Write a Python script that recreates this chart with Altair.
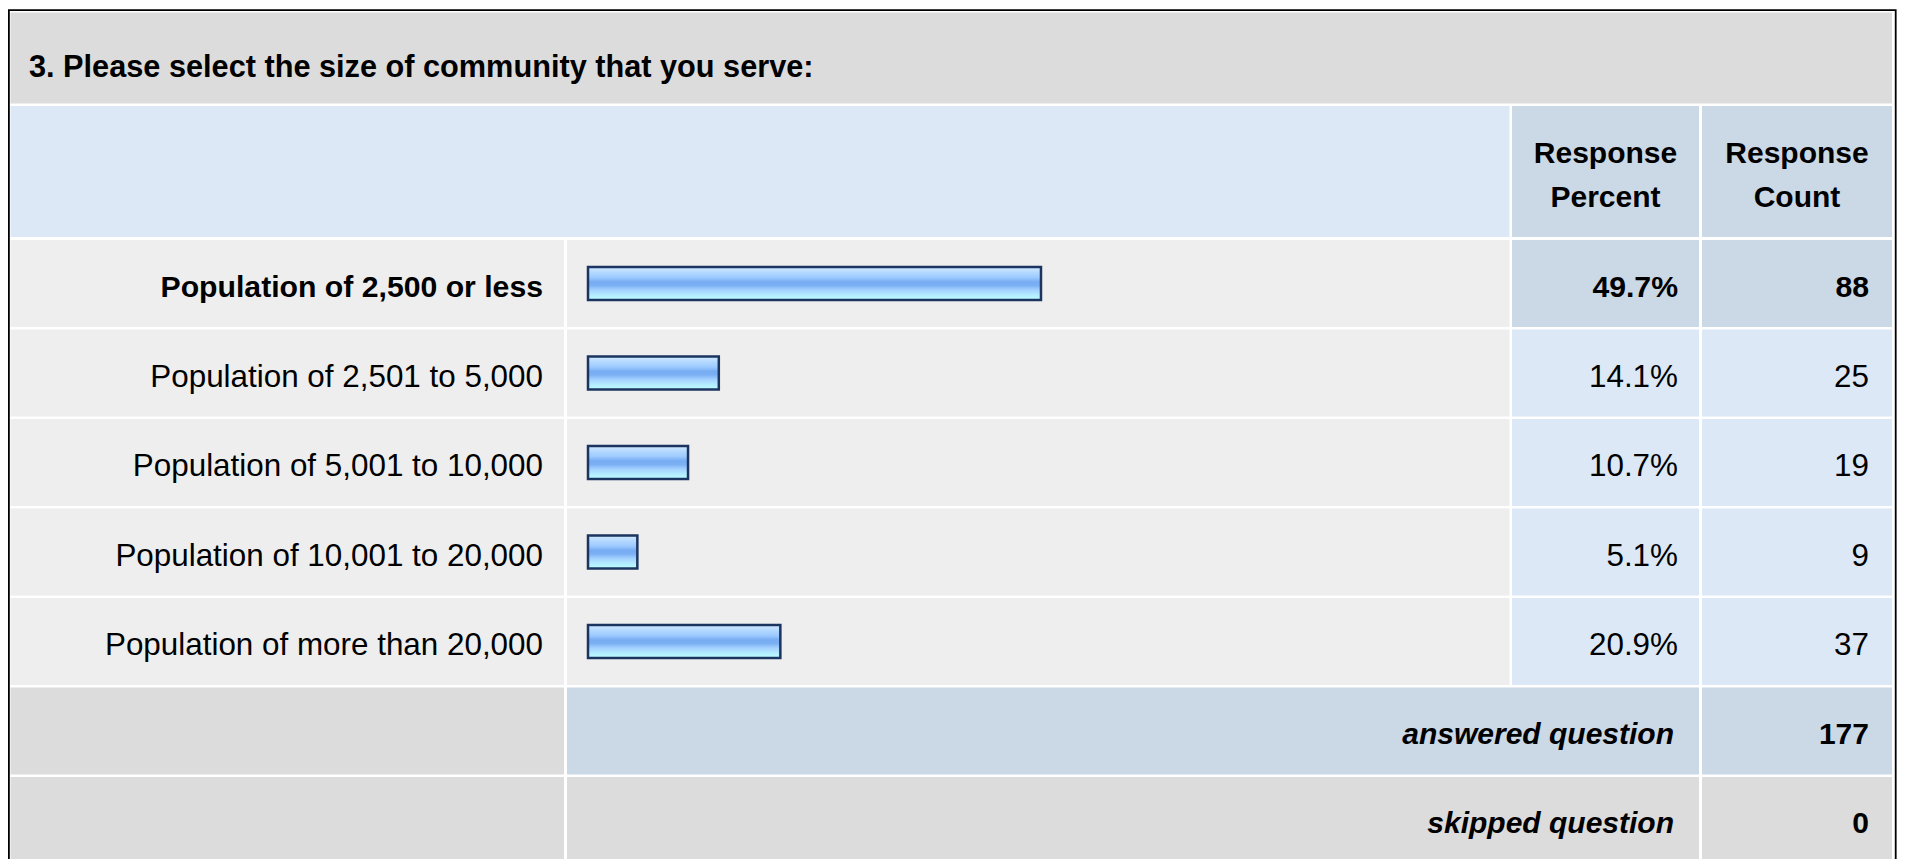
import altair as alt
import pandas as pd

# ---------------- data ----------------
title = "3. Please select the size of community that you serve:"
header_pct = ["Response", "Percent"]
header_cnt = ["Response", "Count"]
categories = [
    "Population of 2,500 or less",
    "Population of 2,501 to 5,000",
    "Population of 5,001 to 10,000",
    "Population of 10,001 to 20,000",
    "Population of more than 20,000",
]
percents = [49.7, 14.1, 10.7, 5.1, 20.9]
counts = [88, 25, 19, 9, 37]
summary_labels = ["answered question", "skipped question"]
summary_values = [177, 0]

# ---------------- layout (screen pixels) ----------------
W, H = 1891, 851
OX, OY = 8, 8
FONT = "Liberation Sans, Arial, Helvetica, sans-serif"

C_TITLE = "#dcdcdc"
C_HEAD = "#dce8f5"
C_HEAD_R = "#cbd8e6"
C_ROW = "#eeeeee"
C_VAL = "#dce8f5"
C_VAL_HI = "#cbd8e6"
C_GRAY = "#dcdcdc"
C_ANS = "#cbd8e6"

xa0, xa1 = 10.5, 564
xb0, xb1 = 567, 1509.5
xc0, xc1 = 1512, 1699
xd0, xd1 = 1702, 1892
row_top0, step, gap = 240, 89.5, 2.5

cells = []
cells.append(dict(x0=xa0, x1=xd1, y0=12.5, y1=103.5, fill=C_TITLE))
cells.append(dict(x0=xa0, x1=xb1, y0=106, y1=237, fill=C_HEAD))
cells.append(dict(x0=xc0, x1=xc1, y0=106, y1=237, fill=C_HEAD_R))
cells.append(dict(x0=xd0, x1=xd1, y0=106, y1=237, fill=C_HEAD_R))
for i in range(len(categories)):
    t = row_top0 + step * i
    b = t + step - gap
    vf = C_VAL_HI if i == 0 else C_VAL
    cells.append(dict(x0=xa0, x1=xa1, y0=t, y1=b, fill=C_ROW))
    cells.append(dict(x0=xb0, x1=xb1, y0=t, y1=b, fill=C_ROW))
    cells.append(dict(x0=xc0, x1=xc1, y0=t, y1=b, fill=vf))
    cells.append(dict(x0=xd0, x1=xd1, y0=t, y1=b, fill=vf))
sum_tops = []
for j, fills in enumerate([(C_GRAY, C_ANS), (C_GRAY, C_GRAY)]):
    t = row_top0 + step * (len(categories) + j)
    b = t + step - gap
    sum_tops.append(t)
    cells.append(dict(x0=xa0, x1=xa1, y0=t, y1=b, fill=fills[0]))
    cells.append(dict(x0=xb0, x1=xc1, y0=t, y1=b, fill=fills[1]))
    cells.append(dict(x0=xd0, x1=xd1, y0=t, y1=b, fill=fills[1]))
cells_df = pd.DataFrame(cells)

X = alt.Scale(domain=[OX, OX + W], range=[0, W], nice=False, zero=False)
Y = alt.Scale(domain=[OY, OY + H], range=[0, H], nice=False, zero=False)

cell_layer = alt.Chart(cells_df).mark_rect().encode(
    x=alt.X("x0:Q", scale=X, axis=None),
    x2="x1:Q",
    y=alt.Y("y0:Q", scale=Y, axis=None),
    y2="y1:Q",
    color=alt.Color("fill:N", scale=None, legend=None),
)

border_df = pd.DataFrame([dict(x0=8.9, x1=1895.7, y0=10.2, y1=900)])
border_layer = alt.Chart(border_df).mark_rect(
    filled=False, stroke="#000000", strokeWidth=1.8
).encode(
    x=alt.X("x0:Q", scale=X, axis=None), x2="x1:Q",
    y=alt.Y("y0:Q", scale=Y, axis=None), y2="y1:Q",
)

def text_layer(df, **kw):
    return alt.Chart(df).mark_text(font=FONT, color="#000000", baseline="alphabetic", **kw).encode(
        x=alt.X("x:Q", scale=X, axis=None),
        y=alt.Y("y:Q", scale=Y, axis=None),
        text="t:N",
    )

title_df = pd.DataFrame([dict(x=29, y=76.5, t=title)])
head_df = pd.DataFrame([
    dict(x=(xc0 + xc1) / 2, y=162.5, t=header_pct[0]),
    dict(x=(xc0 + xc1) / 2, y=206.5, t=header_pct[1]),
    dict(x=(xd0 + xd1) / 2, y=162.5, t=header_cnt[0]),
    dict(x=(xd0 + xd1) / 2, y=206.5, t=header_cnt[1]),
])
sum_lab_df = pd.DataFrame([
    dict(x=1674, y=sum_tops[k] + 43.5 + 12.5, t=summary_labels[k]) for k in range(2)
])
sum_val_df = pd.DataFrame([
    dict(x=1869, y=sum_tops[k] + 43.5 + 12.5, t=str(summary_values[k])) for k in range(2)
])

static = alt.layer(
    cell_layer,
    border_layer,
    text_layer(title_df, align="left", fontSize=30.7, fontWeight="bold"),
    text_layer(head_df, align="center", fontSize=30, fontWeight="bold"),
    text_layer(sum_lab_df, align="right", fontSize=30, fontWeight="bold", fontStyle="italic"),
    text_layer(sum_val_df, align="right", fontSize=30, fontWeight="bold"),
)

# ---------------- data rows ----------------
df = pd.DataFrame({
    "category": categories,
    "pct": percents,
    "count": [str(c) for c in counts],
    "pct_label": [f"{p:.1f}%" for p in percents],
    "hi": [i == 0 for i in range(len(categories))],
})

band_top = row_top0 - gap / 2 - OY
Yb = alt.Scale(domain=categories, range=[band_top, band_top + step * len(categories)],
               paddingInner=0.63, paddingOuter=0.315)
# zero of the percent scale sits a little right of the bar's left edge (x2Offset)
Xb = alt.Scale(domain=[0, 100], range=[591.2 - OX, 1496.2 - OX], nice=False, zero=False)

grad = alt.Gradient(
    gradient="linear",
    stops=[
        alt.GradientStop(offset=0.0, color="#d2eaff"),
        alt.GradientStop(offset=0.15, color="#b6daff"),
        alt.GradientStop(offset=0.32, color="#9ccaff"),
        alt.GradientStop(offset=0.45, color="#78acf2"),
        alt.GradientStop(offset=0.56, color="#7cb0f4"),
        alt.GradientStop(offset=0.70, color="#a4d2ff"),
        alt.GradientStop(offset=0.85, color="#b4ecff"),
        alt.GradientStop(offset=1.0, color="#baffff"),
    ],
    x1=0, x2=0, y1=0, y2=1,
)

base = alt.Chart(df)
ycat = alt.Y("category:N", scale=Yb, axis=None, sort=categories)

bars = base.mark_bar(color=grad, stroke="#1c3560", strokeWidth=2.5, x2Offset=-3.2).encode(
    x=alt.X("pct:Q", scale=Xb, axis=None),
    x2=alt.datum(0),
    y=ycat,
)

def row_text(field, xpix, bold):
    flt = alt.datum.hi if bold else ~alt.datum.hi
    return base.transform_filter(flt).mark_text(
        font=FONT, color="#000000", align="right", baseline="alphabetic", dy=13.5,
        fontSize=30.2 if bold else 31.4, fontWeight="bold" if bold else "normal",
    ).encode(x=alt.value(xpix - OX), y=ycat, text=f"{field}:N")

rows = alt.layer(
    bars,
    row_text("category", 543, True), row_text("category", 543, False),
    row_text("pct_label", 1678, True), row_text("pct_label", 1678, False),
    row_text("count", 1869, True), row_text("count", 1869, False),
)

chart = alt.layer(static, rows).resolve_scale(
    x="independent", y="independent"
).properties(
    width=W, height=H, padding=0, autosize="none", background="white"
).configure_view(strokeWidth=0)

chart.save("out.html", embed_options={"renderer": "svg", "actions": False})
